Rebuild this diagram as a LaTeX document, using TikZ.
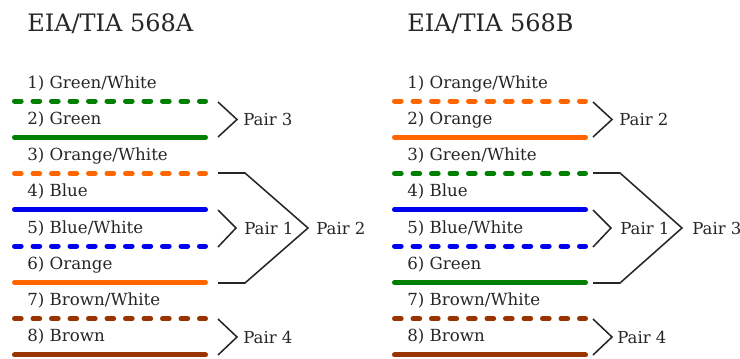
\documentclass[tikz,border=0pt]{standalone}
\usepackage{fontspec}
\setmainfont{DejaVu Serif}
\definecolor{wgreen}{HTML}{007F00}
\definecolor{worange}{HTML}{FF6600}
\definecolor{wblue}{HTML}{0000F0}
\definecolor{wbrown}{HTML}{993300}
\definecolor{ink}{HTML}{262626}
\tikzset{
  wire/.style={line width=3.75pt, line cap=round},
  stripe/.style={wire, dash pattern=on 5pt off 8.875pt},
  wirelabel/.style={anchor=base west, inner sep=0pt, text=ink, font=\fontsize{12.5pt}{14pt}\selectfont},
  pairlabel/.style={anchor=base west, inner sep=0pt, text=ink, font=\fontsize{12.4pt}{14pt}\selectfont},
  heading/.style={anchor=base west, inner sep=0pt, text=ink, font=\fontsize{18pt}{21pt}\selectfont},
  brace/.style={line width=1.15pt, draw=black!85, line join=miter},
}
\begin{document}
\begin{tikzpicture}[x=0.75pt, y=-0.75pt]
\useasboundingbox (0,0) rectangle (740,358);

% ---------- EIA/TIA 568A ----------
\node[heading] (titleA) at (27,31) {EIA/TIA 568A};
\foreach \i/\c/\s/\t in {1/wgreen/stripe/{1) Green/White},
                          2/wgreen/wire/{2) Green},
                          3/worange/stripe/{3) Orange/White},
                          4/wblue/wire/{4) Blue},
                          5/wblue/stripe/{5) Blue/White},
                          6/worange/wire/{6) Orange},
                          7/wbrown/stripe/{7) Brown/White},
                          8/wbrown/wire/{8) Brown}} {
  \pgfmathsetmacro\wy{101+(\i-1)*36.28}
  \coordinate (Aw\i s) at (14.5,\wy);
  \coordinate (Aw\i e) at (205.5,\wy);
  \draw[\s, draw=\c] (Aw\i s) -- (Aw\i e);
  \node[wirelabel] (Al\i) at (27,\wy-13) {\t};
}

% pair brackets
\coordinate (A3a) at (218,102);   \coordinate (A3t) at (237,119.5); \coordinate (A3b) at (218,137);
\node[pairlabel] (Ap3) at (243,125.5) {Pair 3};
\draw[brace] (A3a) -- (A3t) -- (A3b);

\coordinate (A1a) at (218,210);   \coordinate (A1t) at (236,228);   \coordinate (A1b) at (218,247);
\node[pairlabel] (Ap1) at (244,234) {Pair 1};
\draw[brace] (A1a) -- (A1t) -- (A1b);

\coordinate (A2a) at (218,173);   \coordinate (A2k) at (245,173);   \coordinate (A2t) at (308,228);
\coordinate (A2m) at (245,283);   \coordinate (A2b) at (218,283);
\node[pairlabel] (Ap2) at (316,234) {Pair 2};
\draw[brace] (A2a) -- (A2k) -- (A2t) -- (A2m) -- (A2b);

\coordinate (A4a) at (218,319);   \coordinate (A4t) at (237,337);   \coordinate (A4b) at (218,355);
\node[pairlabel] (Ap4) at (243,343) {Pair 4};
\draw[brace] (A4a) -- (A4t) -- (A4b);

% ---------- EIA/TIA 568B ----------
\node[heading] (titleB) at (407,31) {EIA/TIA 568B};
\foreach \i/\c/\s/\t in {1/worange/stripe/{1) Orange/White},
                          2/worange/wire/{2) Orange},
                          3/wgreen/stripe/{3) Green/White},
                          4/wblue/wire/{4) Blue},
                          5/wblue/stripe/{5) Blue/White},
                          6/wgreen/wire/{6) Green},
                          7/wbrown/stripe/{7) Brown/White},
                          8/wbrown/wire/{8) Brown}} {
  \pgfmathsetmacro\wy{101+(\i-1)*36.28}
  \coordinate (Bw\i s) at (394.5,\wy);
  \coordinate (Bw\i e) at (585.5,\wy);
  \draw[\s, draw=\c] (Bw\i s) -- (Bw\i e);
  \node[wirelabel] (Bl\i) at (407,\wy-13) {\t};
}

\coordinate (B2a) at (593,102);   \coordinate (B2t) at (612,119.5); \coordinate (B2b) at (593,137);
\node[pairlabel] (Bp2) at (619,125.5) {Pair 2};
\draw[brace] (B2a) -- (B2t) -- (B2b);

\coordinate (B1a) at (593,210);   \coordinate (B1t) at (611,228);   \coordinate (B1b) at (593,247);
\node[pairlabel] (Bp1) at (620,234) {Pair 1};
\draw[brace] (B1a) -- (B1t) -- (B1b);

\coordinate (B3a) at (593,173);   \coordinate (B3k) at (620,173);   \coordinate (B3t) at (682,228);
\coordinate (B3m) at (620,283);   \coordinate (B3b) at (593,283);
\node[pairlabel] (Bp3) at (692,234) {Pair 3};
\draw[brace] (B3a) -- (B3k) -- (B3t) -- (B3m) -- (B3b);

\coordinate (B4a) at (593,319);   \coordinate (B4t) at (612,337);   \coordinate (B4b) at (593,355);
\node[pairlabel] (Bp4) at (617,343) {Pair 4};
\draw[brace] (B4a) -- (B4t) -- (B4b);
\end{tikzpicture}
\end{document}
